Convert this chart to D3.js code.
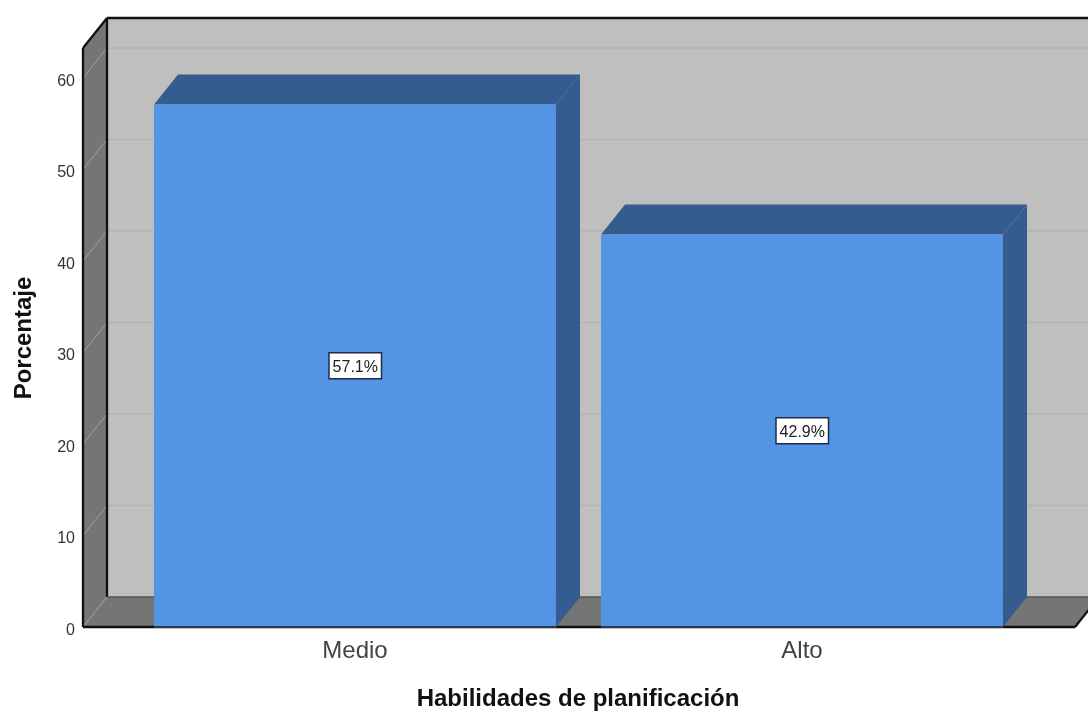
<!DOCTYPE html>
<html><head><meta charset="utf-8">
<script src="https://cdn.jsdelivr.net/npm/d3@7"></script>
<style>html,body{margin:0;padding:0;background:#fff}svg{display:block;filter:blur(0.35px)}text{font-family:"Liberation Sans",Arial,sans-serif}</style>
</head><body><svg id="c" width="1088" height="711"></svg>
<script>
const categories = ["Medio", "Alto"];
const percentages = [57.1, 42.9];
const valueLabels = ["57.1%", "42.9%"];
const yTicks = [0, 10, 20, 30, 40, 50, 60];
const xTitle = "Habilidades de planificación";
const yTitle = "Porcentaje";

const W = 1088, H = 711, dx = 24, dy = -30;
const svg = d3.select("#c");
const y = d3.scaleLinear().domain([0, 60]).range([627, 78]);
const x = d3.scaleBand().domain(categories).range([131.5, 1025.5]).paddingInner(0.1007).paddingOuter(0.05035);
const xL = 83, xR = 1075, y0 = y(0), yTop = 48;
const poly = (pts, fill) => svg.append("path")
  .attr("d", "M" + pts.map(p => p.join(",")).join("L") + "Z")
  .attr("fill", fill);

// back wall
poly([[xL+dx, yTop+dy],[xR+dx, yTop+dy],[xR+dx, y0+dy],[xL+dx, y0+dy]], "#bfbfbf");
// left wall and floor
poly([[xL, yTop],[xL+dx, yTop+dy],[xL+dx, y0+dy],[xL, y0]], "#757575");
poly([[xL, y0],[xL+dx, y0+dy],[xR+dx, y0+dy],[xR, y0]], "#757575");
// gridlines
yTicks.slice(1).forEach(t => {
  svg.append("line").attr("x1", xL+dx).attr("x2", xR+dx).attr("y1", y(t)+dy).attr("y2", y(t)+dy).attr("stroke", "#b3b3b3").attr("stroke-width", 1.3);
});
yTicks.forEach(t => {
  svg.append("line").attr("x1", xL).attr("x2", xL+dx).attr("y1", y(t)).attr("y2", y(t)+dy).attr("stroke", "#a0a0a0").attr("stroke-width", 1);
});
// frame
const frame = (a, b) => svg.append("line").attr("x1", a[0]).attr("y1", a[1]).attr("x2", b[0]).attr("y2", b[1]).attr("stroke", "#111").attr("stroke-width", 2.3);
frame([xL+dx, yTop+dy], [W+20, yTop+dy]);
frame([xL+dx, yTop+dy], [xL+dx, y0+dy]);
frame([xL, yTop], [xL+dx, yTop+dy]);
frame([xL, yTop], [xL, y0]);
frame([xL, y0], [xR, y0]);
frame([xR, y0], [xR+dx, y0+dy]);
svg.append("line").attr("x1", xL+dx).attr("x2", xR+dx).attr("y1", y0+dy).attr("y2", y0+dy).attr("stroke", "#555").attr("stroke-width", 1.5);

// bars
categories.forEach((c, i) => {
  const l = x(c), r = l + x.bandwidth(), t = y(percentages[i]);
  poly([[l, t],[l+dx, t+dy],[r+dx, t+dy],[r, t]], "#355c8f");
  poly([[r, t],[r+dx, t+dy],[r+dx, y0+dy],[r, y0]], "#355c8f");
  svg.append("rect").attr("x", l).attr("y", t).attr("width", x.bandwidth()).attr("height", y0 - t).attr("fill", "#5494e4");
  svg.append("line").attr("x1", l).attr("x2", r).attr("y1", y0).attr("y2", y0).attr("stroke", "#2b3a50").attr("stroke-width", 2);
  const cx = l + x.bandwidth()/2, cy = (t + y0)/2;
  svg.append("rect").attr("x", cx-26).attr("y", cy-13).attr("width", 52.5).attr("height", 26).attr("fill", "#fff").attr("stroke", "#1d2c44").attr("stroke-width", 1.5);
  svg.append("text").attr("x", cx+0.3).attr("y", cy+6).attr("text-anchor", "middle").attr("font-size", 16).attr("fill", "#222").text(valueLabels[i]);
  svg.append("text").attr("x", cx).attr("y", 658).attr("text-anchor", "middle").attr("font-size", 24).attr("fill", "#444").text(c);
});
// y tick labels
yTicks.forEach(t => {
  svg.append("text").attr("x", 75).attr("y", y(t)+7.5).attr("text-anchor", "end").attr("font-size", 16).attr("fill", "#333").text(t);
});
svg.append("text").attr("x", 578).attr("y", 706).attr("text-anchor", "middle").attr("font-size", 24).attr("font-weight", "bold").attr("fill", "#111").text(xTitle);
svg.append("text").attr("transform", "translate(31,338) rotate(-90)").attr("text-anchor", "middle").attr("font-size", 24).attr("font-weight", "bold").attr("fill", "#111").text(yTitle);
</script></body></html>
